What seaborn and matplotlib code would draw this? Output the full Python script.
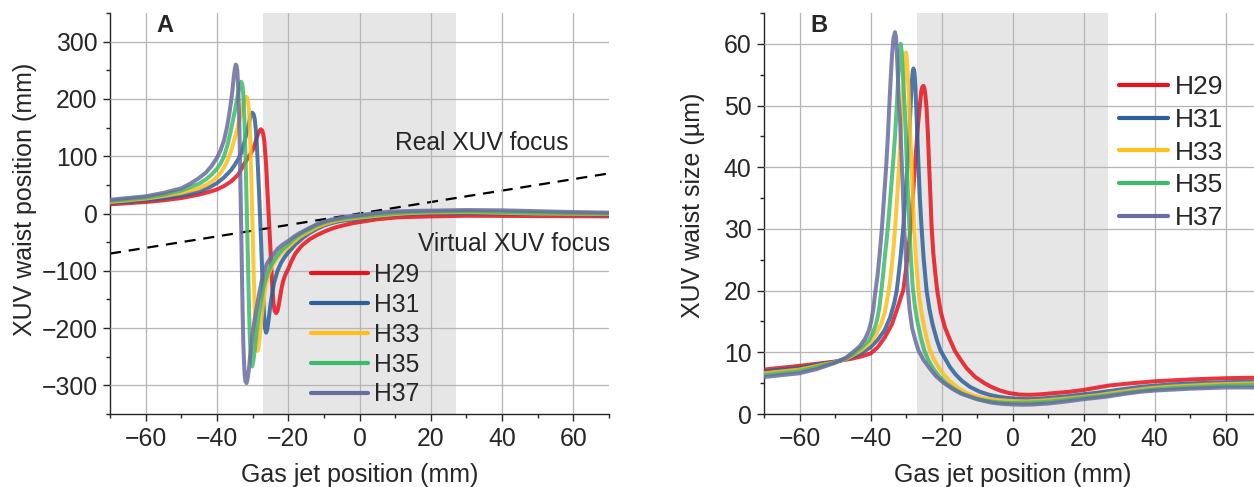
import numpy as np
import pandas as pd
import matplotlib
matplotlib.use("Agg")
import matplotlib.pyplot as plt
from matplotlib.lines import Line2D
from matplotlib.ticker import MultipleLocator
import seaborn as sns

# ---- data ----
labels = ["H29", "H31", "H33", "H35", "H37"]
colors = ["#e8121c", "#2f5f98", "#fdbf1a", "#3dba6c", "#6a6c9f"]

# panel A: XUV waist position (mm) vs gas jet position (mm)
a_x29 = [-70, -65, -60, -55, -50, -45, -42, -40, -38, -36, -34, -32.6, -31.3, -30, -29.3, -28.7, -28.2, -27.7, -27.3, -27.0, -26.7, -26.5, -26.2, -26.0, -25.5, -25.0, -24.7, -24.4, -24.1, -23.8, -23.4, -23.0, -22.6, -22.0, -21.5, -21.0, -20.5, -20.0, -19.0, -18.0, -17.0, -16.0, -14.0, -12.0, -10.0, -8.0, -6.0, -4.0, -2.0, 0, 2.5, 5, 7.5, 10, 15, 20, 30, 40, 50, 60, 70]
a_y29 = [16, 18, 20, 23, 27, 33, 38, 42, 48, 56, 68, 84, 97, 110, 122, 135, 143, 147, 145, 138, 126, 110, 85, 60, 0, -60, -100, -135, -158, -170, -174, -170, -158, -135, -120, -110, -103, -97, -82, -70, -62, -55, -45, -38, -32, -27, -23, -20, -17, -15, -12.5, -10, -8.5, -7, -5.8, -5, -4, -4.2, -4.5, -4.8, -5]
a_x31 = [-70, -65, -60, -55, -50, -45, -42, -40, -38, -36, -35, -34, -33, -32.5, -32, -31.5, -31, -30.6, -30.1, -29.7, -29.4, -29.1, -28.8, -28.5, -28.2, -28.0, -27.7, -27.4, -27.1, -26.8, -26.5, -26.2, -25.9, -25.6, -25.3, -25.0, -24.5, -24.0, -23, -22, -21, -20, -18, -16, -14, -12, -10, -8, -6, -4, -2, 0, 2.5, 5, 7.5, 10, 15, 20, 30, 40, 50, 60, 70]
a_y31 = [18, 20.5, 23, 26.5, 31, 38, 46, 53, 63, 76, 85, 95, 108, 120, 132, 145, 158, 170, 176, 173, 165, 148, 120, 80, 40, 10, -35, -85, -135, -175, -200, -208, -203, -190, -175, -160, -140, -122, -100, -86, -76, -68, -54, -43, -34, -27, -21, -17, -14, -12, -10.5, -9, -7, -5, -3.5, -2, -0.5, 0.5, 0.5, -0.3, -1, -1.5, -2]
a_x33 = [-70, -65, -60, -55, -50, -45, -43, -41, -39.5, -38, -37, -36, -35.3, -34.6, -34, -33.5, -33, -32.6, -32.2, -31.8, -31.5, -31.2, -30.9, -30.7, -30.5, -30.3, -30.1, -29.9, -29.7, -29.5, -29.3, -29.1, -28.9, -28.6, -28.3, -28.0, -27.6, -27.2, -26.8, -26.2, -25.5, -24.7, -24, -23, -22, -21, -20, -18.5, -17, -15.5, -14, -12, -10, -8, -6, -4, -2, 0, 2.5, 5, 7.5, 10, 15, 20, 30, 40, 50, 60, 70]
a_y33 = [20, 23, 26, 30.5, 36, 44, 50, 58, 67, 80, 93, 110, 125, 140, 155, 168, 180, 192, 200, 204, 201, 192, 170, 140, 95, 50, 0, -50, -100, -145, -190, -220, -235, -240, -232, -215, -190, -165, -145, -122, -106, -94, -86, -77, -70, -64, -59, -50, -42, -36, -31, -24, -19, -15, -12, -10, -8.5, -7, -5.5, -4, -2.5, -1, 1, 2, 2.5, 1.3, 0, -0.5, -1]
a_x35 = [-70, -65, -60, -55, -50, -45, -43, -41.5, -40, -39, -38, -37, -36.2, -35.6, -35, -34.6, -34.2, -33.9, -33.6, -33.2, -32.9, -32.7, -32.5, -32.3, -32.1, -31.9, -31.6, -31.4, -31.2, -31.0, -30.8, -30.6, -30.4, -30.1, -29.8, -29.5, -29.0, -28.5, -28.0, -27.5, -27.0, -26.3, -25.5, -24.8, -24, -23, -22, -21, -20, -18.5, -17, -15.5, -14, -12, -10, -8, -6, -4, -2, 0, 2.5, 5, 7.5, 10, 15, 20, 30, 40, 50, 60, 70]
a_y35 = [22, 25, 28, 33, 40, 52, 60, 68, 78, 87, 100, 120, 142, 160, 178, 192, 205, 215, 223, 230, 226, 215, 195, 165, 125, 80, 0, -55, -110, -165, -210, -240, -260, -267, -258, -243, -215, -188, -165, -146, -130, -114, -100, -90, -82, -73, -65, -59, -54, -45, -38, -32, -27, -20, -15.5, -12, -10, -8, -6.5, -5, -3.5, -2, -0.5, 1, 2.5, 3.5, 4, 2.8, 1.5, 0.7, 0]
a_x37 = [-70, -65, -60, -55, -50, -47.5, -45, -43, -41.5, -40, -39, -38, -37.2, -36.5, -36, -35.6, -35.3, -35.0, -34.7, -34.5, -34.3, -34.15, -34.0, -33.85, -33.7, -33.55, -33.4, -33.25, -33.1, -32.95, -32.8, -32.6, -32.4, -32.2, -32.0, -31.7, -31.4, -31.0, -30.7, -30.3, -30.0, -29.5, -29.0, -28.5, -28.0, -27.4, -26.7, -26.0, -25.0, -24, -23, -21.5, -20, -18.5, -17, -15.5, -14, -12, -10, -8, -6, -4, -2, 0, 2.5, 5, 7.5, 10, 15, 20, 30, 40, 50, 60, 70]
a_y37 = [24, 27, 30, 36, 44, 52, 62, 72, 83, 97, 110, 128, 150, 175, 197, 218, 237, 252, 260, 258, 250, 235, 215, 185, 150, 102, 50, -5, -60, -115, -170, -225, -260, -283, -293, -296, -289, -270, -250, -228, -210, -188, -170, -152, -135, -117, -100, -88, -78, -70, -62, -54, -48, -41, -35, -30, -25, -19, -14.5, -11, -8.5, -6, -4.5, -3, -1, 1, 2.5, 3.5, 4.5, 5, 6, 5.5, 4, 2.5, 1.5]

# panel B: XUV waist size (um) vs gas jet position (mm)
b_x29 = [-70, -65, -60, -55, -50, -47, -45, -42.5, -40, -38, -36, -34, -32.5, -31.5, -30.8, -30.2, -29.7, -29.2, -28.7, -28.1, -27.5, -27.0, -26.6, -26.1, -25.7, -25.4, -25.1, -24.8, -24.5, -24.2, -23.8, -23.5, -23.1, -22.8, -22.3, -21.7, -21.2, -20.2, -19, -17.6, -16.2, -14.5, -12.9, -10.5, -8.2, -6, -3.5, -1, 2, 5, 8, 12, 16, 20, 24, 27, 32, 36, 40, 45, 50, 55, 60, 70]
b_y29 = [7.2, 7.5, 7.8, 8.15, 8.5, 8.8, 9.0, 9.35, 9.8, 10.8, 12.4, 14.5, 17, 18.8, 20, 22.5, 25, 27.5, 30, 35, 40, 44, 47, 50, 52.3, 53.0, 53.2, 52.8, 51.5, 49.5, 45, 40.5, 35, 30.5, 26, 22.5, 20, 16.5, 14, 12, 10.2, 8.7, 7.4, 6.0, 5.1, 4.4, 3.8, 3.4, 3.15, 3.1, 3.2, 3.4, 3.6, 3.9, 4.3, 4.6, 4.9, 5.1, 5.3, 5.45, 5.6, 5.7, 5.8, 5.9]
b_x31 = [-70, -65, -60, -55, -50, -47, -45, -42.5, -40, -38, -36, -34.5, -33.4, -32.6, -31.6, -30.8, -30.2, -29.6, -29.1, -28.7, -28.4, -28.1, -27.9, -27.6, -27.35, -27.1, -26.8, -26.5, -26.1, -25.6, -25.0, -24.2, -23.4, -22.5, -21.3, -20.3, -19, -17.6, -16, -14.3, -12, -9.2, -6.5, -4, -1.5, 2, 5, 8, 12, 16, 20, 24, 27, 32, 36, 40, 45, 50, 55, 60, 70]
b_y31 = [6.9, 7.2, 7.5, 8.0, 8.45, 8.9, 9.3, 9.9, 10.8, 12.0, 13.6, 15.6, 17.8, 20, 25, 30, 35, 40, 45, 50, 53.5, 55.5, 56, 55.3, 53, 49.5, 45, 40.5, 35, 30, 25, 20, 17, 14.5, 12, 10.3, 9, 7.6, 6.4, 5.4, 4.4, 3.6, 3.1, 2.8, 2.6, 2.45, 2.4, 2.5, 2.7, 2.9, 3.2, 3.45, 3.7, 4.1, 4.4, 4.6, 4.8, 4.95, 5.05, 5.15, 5.3]
b_x33 = [-70, -65, -60, -55, -50, -47, -45, -42.5, -40, -38.5, -37, -36, -35, -34.5, -34, -33.5, -33.1, -32.5, -32.0, -31.5, -31.0, -30.6, -30.3, -30.0, -29.75, -29.5, -29.3, -29.1, -28.8, -28.4, -28.05, -27.7, -27.2, -26.5, -25.8, -25.0, -24.2, -23.2, -22, -20.6, -19.2, -17.6, -15.5, -12.9, -10.5, -8, -4, 0, 4, 8, 12, 16, 20, 24, 27, 32, 36, 40, 45, 50, 55, 60, 70]
b_y33 = [6.6, 6.9, 7.2, 7.8, 8.4, 8.9, 9.5, 10.4, 11.6, 12.9, 14.6, 16.4, 19.5, 21.5, 24, 27, 30, 35, 40, 45, 50, 54.5, 57.3, 58.6, 57.5, 55, 52.5, 50, 45, 40, 35, 30, 25, 20, 17, 14.5, 12.3, 10.3, 8.7, 7.4, 6.3, 5.3, 4.3, 3.4, 2.9, 2.55, 2.25, 2.1, 2.05, 2.15, 2.35, 2.55, 2.8, 3.05, 3.3, 3.7, 4.0, 4.25, 4.45, 4.6, 4.75, 4.85, 5.0]
b_x35 = [-70, -65, -60, -55, -50, -47, -45, -42.5, -40.5, -39.3, -38.5, -38, -37.5, -37.1, -36.5, -36, -35.5, -35.0, -34.5, -34.0, -33.6, -33.1, -32.6, -32.2, -31.8, -31.5, -31.2, -31.0, -30.7, -30.3, -29.8, -29.4, -29.1, -28.6, -28.1, -27.5, -26.8, -25.8, -24.8, -23.6, -22.3, -20.5, -18.5, -16, -14, -11, -8, -4, 0, 4, 8, 12, 16, 20, 24, 27, 32, 36, 40, 45, 50, 55, 60, 70]
b_y35 = [6.3, 6.6, 6.9, 7.6, 8.35, 9.0, 9.7, 10.8, 11.9, 13.2, 14.5, 15.7, 17.3, 19.2, 22.3, 25.3, 28, 31, 34.5, 38, 41, 45, 50, 54.5, 58.5, 60, 58.7, 56.5, 53, 49, 41, 35, 31, 25, 20.5, 17.5, 15, 12.3, 10.2, 8.6, 7.3, 6.0, 4.9, 3.9, 3.25, 2.6, 2.2, 1.9, 1.8, 1.8, 1.9, 2.1, 2.35, 2.6, 2.85, 3.05, 3.45, 3.75, 4.0, 4.2, 4.35, 4.45, 4.6, 4.7]
b_x37 = [-70, -65, -60, -55, -50, -47, -45, -43, -41.5, -40.5, -39.8, -39.2, -38.7, -38, -37.4, -36.8, -36.2, -35.6, -35.1, -34.7, -34.3, -33.9, -33.5, -33.1, -32.8, -32.6, -32.3, -32.0, -31.7, -31.35, -31.0, -30.5, -30.0, -29.6, -29.0, -28.3, -27.4, -26.5, -25.0, -23.2, -21.5, -19.5, -17, -14.5, -12.9, -10, -6, -3, 0, 3, 6, 10, 14, 20, 24, 27, 32, 36, 40, 45, 50, 55, 60, 70]
b_y37 = [6.0, 6.3, 6.6, 7.3, 8.3, 9.1, 10.0, 11.0, 12.2, 13.5, 15.0, 17.0, 19.5, 22.5, 26, 30, 35, 40, 45, 50, 54.5, 58.5, 61, 61.9, 61, 59, 55, 50.5, 48, 43, 38, 30, 25, 21, 17, 14, 12, 10.3, 8.7, 7.3, 6.1, 5.1, 4.1, 3.3, 3.0, 2.4, 1.85, 1.65, 1.55, 1.5, 1.55, 1.7, 1.95, 2.4, 2.65, 2.85, 3.3, 3.6, 3.8, 3.95, 4.1, 4.2, 4.3, 4.3]

focus_x = [-70, 70]   # real/virtual focus boundary (dashed)
focus_y = [-70, 70]
jet_region = (-27, 27)  # shaded gas jet region


def long_table(xs, ys):
    parts = []
    for lab, x, y in zip(labels, xs, ys):
        parts.append(pd.DataFrame({"x": x, "y": y, "harmonic": lab}))
    return pd.concat(parts, ignore_index=True)


df_a = long_table([a_x29, a_x31, a_x33, a_x35, a_x37], [a_y29, a_y31, a_y33, a_y35, a_y37])
df_b = long_table([b_x29, b_x31, b_x33, b_x35, b_x37], [b_y29, b_y31, b_y33, b_y35, b_y37])

sns.set_style("ticks")
plt.rcParams["font.family"] = ["Liberation Sans", "DejaVu Sans"]
plt.rcParams["axes.linewidth"] = 1.0

fig = plt.figure(figsize=(12.54, 4.87), dpi=100)
ax_a = fig.add_axes([110 / 1254, 73 / 487, 499 / 1254, 401 / 487])
ax_b = fig.add_axes([764 / 1254, 73 / 487, 497 / 1254, 401 / 487])

pal = dict(zip(labels, colors))
for ax, df in [(ax_a, df_a), (ax_b, df_b)]:
    ax.axvspan(*jet_region, color="#e6e6e6", zorder=0.5, lw=0)
    sns.lineplot(data=df, x="x", y="y", hue="harmonic", palette=pal, sort=False,
                 estimator=None, lw=2.9, alpha=0.85, legend=False, ax=ax, zorder=3)
    ax.set_xlim(-70, 70)
    ax.xaxis.set_major_locator(MultipleLocator(20))
    ax.xaxis.set_minor_locator(MultipleLocator(10))
    ax.grid(True, which="major", color="#b5b5b5", lw=0.9, zorder=1)
    ax.set_axisbelow(False)
    for s in ["top", "right"]:
        ax.spines[s].set_visible(False)
    ax.tick_params(which="major", length=5, width=1, labelsize=17.8, pad=4)
    ax.tick_params(which="minor", length=3, width=1)
    ax.set_xlabel("Gas jet position (mm)", fontsize=18)
    ax.xaxis.set_label_coords(0.5, -0.122)

# panel A extras
ax_a.plot(focus_x, focus_y, ls=(0, (5, 3.5)), color="black", lw=1.6, zorder=2.5)
ax_a.set_ylim(-350, 350)
ax_a.yaxis.set_major_locator(MultipleLocator(100))
ax_a.yaxis.set_minor_locator(MultipleLocator(50))
ax_a.set_ylabel("XUV waist position (mm)", fontsize=18)
ax_a.yaxis.set_label_coords(-0.147, 0.535)
ax_a.text(34.2, 123, "Real XUV focus", fontsize=17.7, ha="center", va="center")
ax_a.text(43.5, -54, "Virtual XUV focus", fontsize=17.7, ha="center", va="center")
ax_a.text(0.11, 0.968, "A", transform=ax_a.transAxes, fontsize=17, fontweight="bold",
          ha="center", va="center")

# panel B extras
ax_b.set_ylim(0, 65)
ax_b.yaxis.set_major_locator(MultipleLocator(10))
ax_b.yaxis.set_minor_locator(MultipleLocator(5))
ax_b.set_ylabel("XUV waist size (µm)", fontsize=18)
ax_b.yaxis.set_label_coords(-0.118, 0.52)
ax_b.text(0.11, 0.968, "B", transform=ax_b.transAxes, fontsize=17, fontweight="bold",
          ha="center", va="center")

handles = [Line2D([], [], color=c, lw=3) for c in colors]
ax_a.legend(handles, labels, loc="upper left", bbox_to_anchor=(0.402, 0.377), frameon=False,
            fontsize=17.7, handlelength=2.32, handletextpad=0.26, labelspacing=0.24,
            borderpad=0, borderaxespad=0)
ax_b.legend(handles, labels, loc="upper left", bbox_to_anchor=(0.714, 0.845), frameon=False,
            fontsize=19, handlelength=1.86, handletextpad=0.27, labelspacing=0.33,
            borderpad=0, borderaxespad=0)

fig.savefig("out.png", dpi=100)
